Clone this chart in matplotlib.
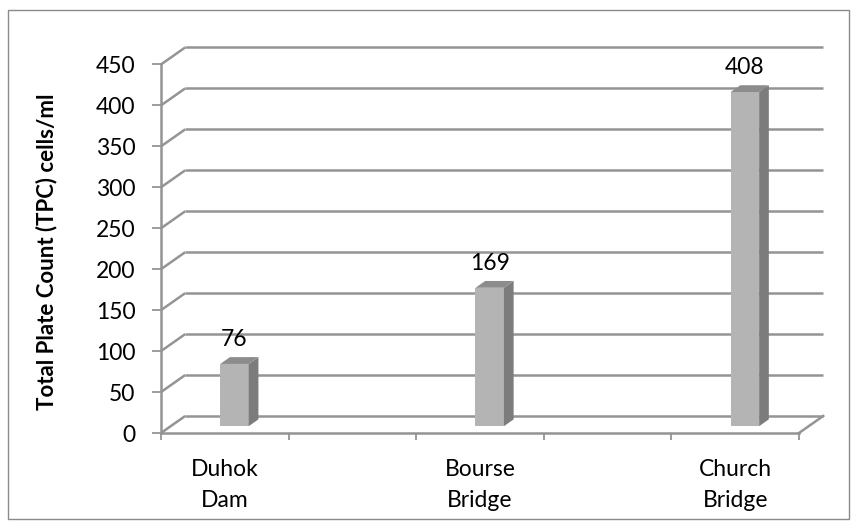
from matplotlib import pyplot as plt
from matplotlib.patches import Polygon, Rectangle

sites = ['Duhok\nDam', 'Bourse\nBridge', 'Church\nBridge']
tpc = [76, 169, 408]
yticks = list(range(0, 451, 50))
cat_pos = [0.5, 2.5, 4.5]
xticks = [0, 1, 2, 3, 4, 5]

# fake 3d depth (category units, value units)
DX = 0.19
DY = 20.8
f0, f1 = 0.4, 0.8
bw = 0.223
grid_c = '#949494'

plt.rcParams['font.family'] = ['Lato', 'DejaVu Sans']

fig = plt.figure(figsize=(8.57, 5.28), dpi=100)
fig.patches.append(Rectangle((8 / 857, 1 - 519 / 528), 841 / 857, 509 / 528,
                             transform=fig.transFigure, fill=False,
                             edgecolor='#8a8a8a', lw=1))

ax = fig.add_axes([161 / 857, 95 / 528, 5.19 * 127.6 / 857, 470.8 * 0.819 / 528])
ax.set_xlim(0, 5 + DX)
ax.set_ylim(0, 450 + DY)

# walls: diagonal on the left side + back lines
for v in yticks:
    ax.plot([0, DX], [v, v + DY], color=grid_c, lw=1.8, zorder=1, clip_on=False,
            solid_capstyle='butt')
    ax.plot([DX, 5 + DX], [v + DY, v + DY], color=grid_c, lw=1.8, zorder=1,
            clip_on=False, solid_capstyle='butt')
# floor right edge
ax.plot([5, 5 + DX], [0, DY], color=grid_c, lw=1.8, zorder=1, clip_on=False)

# bars
for x, v in zip(cat_pos, tpc):
    xc = x + f0 * DX
    xl, xr = xc - bw / 2, xc + bw / 2
    ddx, y0, y1 = (f1 - f0) * DX, f0 * DY, f1 * DY
    ax.bar(xc, v, bottom=y0, width=bw, color='#b4b4b4', zorder=3)
    ax.add_patch(Polygon([(xr, y0), (xr + ddx, y1), (xr + ddx, v + y1), (xr, v + y0)],
                         closed=True, facecolor='#7c7c7c', edgecolor='none', zorder=3))
    ax.add_patch(Polygon([(xl, v + y0), (xr, v + y0), (xr + ddx, v + y1), (xl + ddx, v + y1)],
                         closed=True, facecolor='#8c8c8c', edgecolor='none', zorder=3))
    ax.annotate(str(v), (xc, v + y1), xytext=(0, 5), textcoords='offset points',
                ha='center', va='bottom', fontsize=16.5)

for s in ['top', 'right']:
    ax.spines[s].set_visible(False)
ax.spines['left'].set_bounds(0, 450)
ax.spines['bottom'].set_bounds(0, 5)
for s in ['left', 'bottom']:
    ax.spines[s].set_color(grid_c)
    ax.spines[s].set_linewidth(1.8)

ax.set_yticks(yticks)
ax.set_xticks(xticks)
ax.set_xticklabels([])
ax.tick_params(axis='y', length=6.5, width=1.3, color=grid_c, labelsize=16.5, pad=12)
ax.tick_params(axis='x', length=5, width=1.3, color=grid_c)
for x, s in zip(cat_pos, sites):
    ax.text(x, -0.068, s, ha='center', va='top', fontsize=16.5, linespacing=1.55,
            transform=ax.get_xaxis_transform(), clip_on=False)

ax.set_ylabel('Total Plate Count (TPC) cells/ml', fontsize=16, fontweight='bold')
ax.yaxis.set_label_coords(-0.157, 0.47)
ax.patch.set_visible(False)

fig.savefig('out.png', dpi=100)
